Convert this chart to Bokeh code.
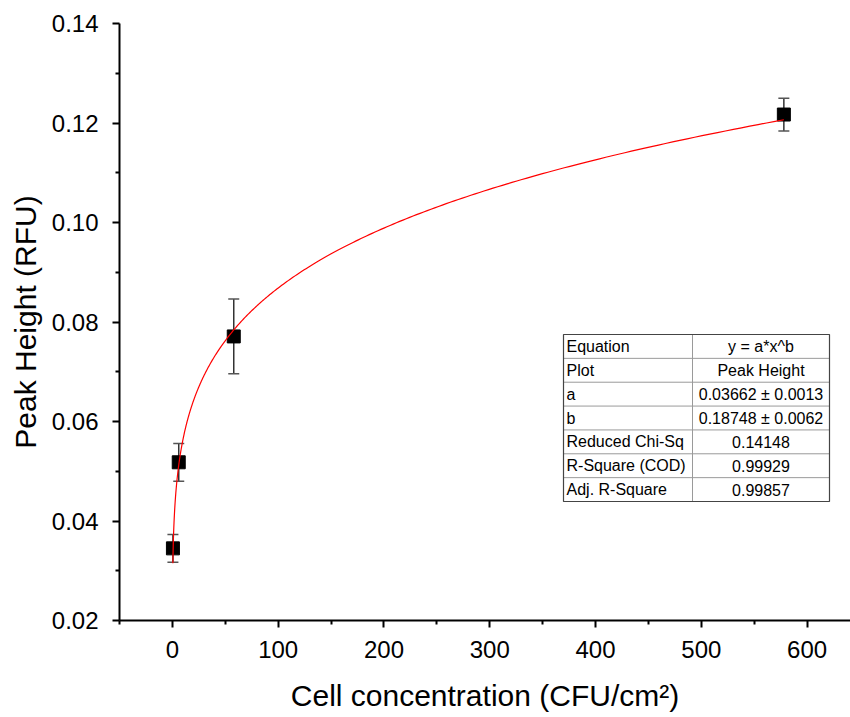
import numpy as np
from bokeh.plotting import figure
from bokeh.models import (Range1d, FixedTicker, PrintfTickFormatter, Whisker,
                          ColumnDataSource, TeeHead)
from bokeh.core.properties import value
from bokeh.embed import file_html
from bokeh.resources import INLINE

# ---------------- data ----------------
conc = [0.5, 6, 58, 578]
peak = [0.0345, 0.0518, 0.0771, 0.1217]
peak_err = [0.0028, 0.0038, 0.0075, 0.0033]

fit_a = 0.03662
fit_b = 0.18748

table_labels = ["Equation", "Plot", "a", "b", "Reduced Chi-Sq",
                "R-Square (COD)", "Adj. R-Square"]
table_values = ["y = a*x^b", "Peak Height", "0.03662 \u00b1 0.0013",
                "0.18748 \u00b1 0.0062", "0.14148", "0.99929", "0.99857"]

x_ticks = [0, 100, 200, 300, 400, 500, 600]
x_minor = [-50, 50, 150, 250, 350, 450, 550]
y_ticks = [0.02, 0.04, 0.06, 0.08, 0.10, 0.12, 0.14]
y_minor = [0.03, 0.05, 0.07, 0.09, 0.11, 0.13]

# ---------------- layout ----------------
W, H = 850, 717
BL, BR, BT, BB = 119, 0, 23, 97
X0, X1 = -50, 641
Y0, Y1 = 0.02, 0.14
FONT = "Liberation Sans"

p = figure(width=W, height=H, x_range=Range1d(X0, X1), y_range=Range1d(Y0, Y1),
           output_backend="svg", toolbar_location=None,
           min_border_left=BL, min_border_right=BR, min_border_top=BT,
           min_border_bottom=BB)
p.outline_line_color = None
p.xgrid.visible = False
p.ygrid.visible = False
p.background_fill_color = "white"
p.border_fill_color = "white"

for ax in (p.xaxis[0], p.yaxis[0]):
    ax.axis_line_color = "black"
    ax.axis_line_width = 2
    ax.major_tick_line_color = "black"
    ax.major_tick_line_width = 2
    ax.minor_tick_line_color = "black"
    ax.minor_tick_line_width = 2
    ax.major_tick_in = 0
    ax.major_tick_out = 7
    ax.minor_tick_in = 0
    ax.minor_tick_out = 4
    ax.major_label_text_font = FONT
    ax.major_label_text_font_size = "24px"
    ax.major_label_text_color = "black"
    ax.axis_label_text_font = FONT
    ax.axis_label_text_font_size = "30px"
    ax.axis_label_text_font_style = "normal"
    ax.axis_label_text_color = "black"

p.xaxis.ticker = FixedTicker(ticks=x_ticks, minor_ticks=x_minor)
p.yaxis.ticker = FixedTicker(ticks=y_ticks, minor_ticks=y_minor)
p.yaxis.formatter = PrintfTickFormatter(format="%.2f")
p.xaxis.major_label_standoff = 13
p.yaxis.major_label_standoff = 14
p.xaxis.axis_label = "Cell concentration (CFU/cm\u00b2)"
p.yaxis.axis_label = "Peak Height (RFU)"
p.xaxis.axis_label_standoff = 18
p.yaxis.axis_label_standoff = 7

# ---------------- error bars + points ----------------
src = ColumnDataSource(dict(
    x=conc, y=peak,
    upper=[v + e for v, e in zip(peak, peak_err)],
    lower=[v - e for v, e in zip(peak, peak_err)],
))
wh = Whisker(base="x", upper="upper", lower="lower", source=src,
             line_color="#333333", line_width=1.5,
             upper_head=TeeHead(size=11, line_color="#555555", line_width=1.5),
             lower_head=TeeHead(size=11, line_color="#555555", line_width=1.5))
p.add_layout(wh)
p.scatter("x", "y", source=src, marker="square", size=13,
          fill_color="black", line_color="black")

# ---------------- fit curve (from fitted parameters) ----------------
xf = np.geomspace(min(conc) * 0.9, max(conc), 500)
yf = fit_a * xf ** fit_b
p.line(xf, yf, line_color="red", line_width=1.2)

# ---------------- fit table (annotation, placed in pixel space) ----------------
FW = W - BL - BR
FH = H - BT - BB


def px_x(px):
    return X0 + (px - BL) / FW * (X1 - X0)


def px_y(py):
    return Y1 - (py - BT) / FH * (Y1 - Y0)


t_left, t_right, t_top, t_bot, t_div = 563, 829, 334, 501, 692
n = len(table_labels)
rh = (t_bot - t_top) / n

p.quad(left=[px_x(t_left)], right=[px_x(t_right)], top=[px_y(t_top)],
       bottom=[px_y(t_bot)], fill_color="white", line_color=None)
# inner lines
ys = [t_top + rh * i for i in range(1, n)]
p.segment(x0=[px_x(t_left)] * len(ys), x1=[px_x(t_right)] * len(ys),
          y0=[px_y(v) for v in ys], y1=[px_y(v) for v in ys],
          line_color="#9a9a9a", line_width=1)
p.segment(x0=[px_x(t_div)], x1=[px_x(t_div)], y0=[px_y(t_top)], y1=[px_y(t_bot)],
          line_color="#9a9a9a", line_width=1)
# outer border
p.quad(left=[px_x(t_left)], right=[px_x(t_right)], top=[px_y(t_top)],
       bottom=[px_y(t_bot)], fill_color=None, line_color="#444444", line_width=1.2)

cy = [px_y(t_top + rh * (i + 0.5)) for i in range(n)]
p.text(x=[px_x(t_left + 3)] * n, y=cy, text=table_labels,
       text_font=value(FONT), text_font_size="16px", text_color="black",
       text_align="left", text_baseline="middle")
p.text(x=[px_x((t_div + t_right) / 2)] * n, y=cy, text=table_values,
       text_font=value(FONT), text_font_size="16px", text_color="black",
       text_align="center", text_baseline="middle")

open("out.html", "w").write(file_html(p, INLINE))
